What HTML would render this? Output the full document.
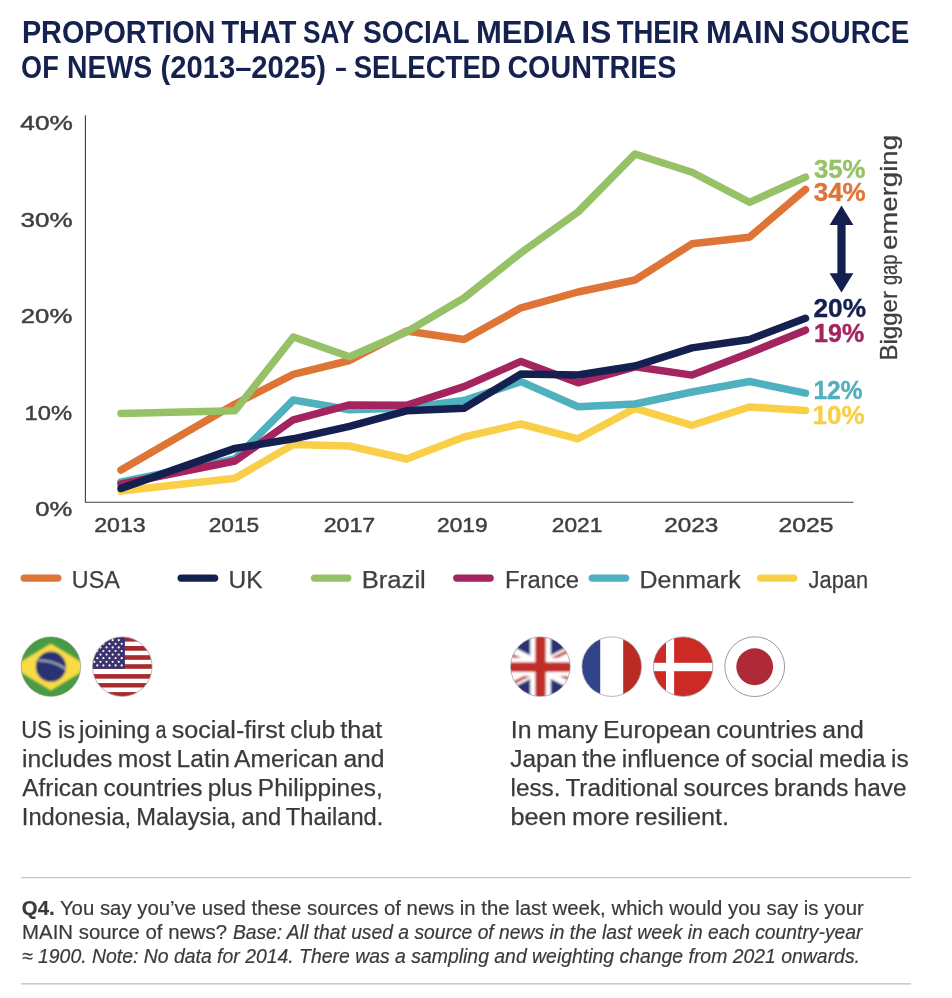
<!DOCTYPE html>
<html><head><meta charset="utf-8"><title>Social media as main source of news</title>
<style>html,body{margin:0;padding:0;background:#fff}body{width:952px;height:998px;overflow:hidden}svg{display:block;will-change:transform}text{font-family:"Liberation Sans", sans-serif}</style>
</head><body>
<svg width="952" height="998" viewBox="0 0 952 998">
<rect width="952" height="998" fill="#fff"/>
<text x="21.9" y="43.4" font-size="30.7" fill="#15224f" font-weight="bold" font-style="normal" textLength="193.53" lengthAdjust="spacingAndGlyphs">PROPORTION</text>
<text x="221.4" y="43.4" font-size="30.7" fill="#15224f" font-weight="bold" font-style="normal" textLength="75.01" lengthAdjust="spacingAndGlyphs">THAT</text>
<text x="303.1" y="43.4" font-size="30.7" fill="#15224f" font-weight="bold" font-style="normal" textLength="51.57" lengthAdjust="spacingAndGlyphs">SAY</text>
<text x="362.9" y="43.4" font-size="30.7" fill="#15224f" font-weight="bold" font-style="normal" textLength="106.52" lengthAdjust="spacingAndGlyphs">SOCIAL</text>
<text x="475.9" y="43.4" font-size="30.7" fill="#15224f" font-weight="bold" font-style="normal" textLength="100.07" lengthAdjust="spacingAndGlyphs">MEDIA</text>
<text x="581.2" y="43.4" font-size="30.7" fill="#15224f" font-weight="bold" font-style="normal" textLength="30.28" lengthAdjust="spacingAndGlyphs">IS</text>
<text x="616.7" y="43.4" font-size="30.7" fill="#15224f" font-weight="bold" font-style="normal" textLength="82.51" lengthAdjust="spacingAndGlyphs">THEIR</text>
<text x="705.9" y="43.4" font-size="30.7" fill="#15224f" font-weight="bold" font-style="normal" textLength="79.15" lengthAdjust="spacingAndGlyphs">MAIN</text>
<text x="790.4" y="43.4" font-size="30.7" fill="#15224f" font-weight="bold" font-style="normal" textLength="119.02" lengthAdjust="spacingAndGlyphs">SOURCE</text>
<text x="21.1" y="78" font-size="30.7" fill="#15224f" font-weight="bold" font-style="normal" textLength="37.6" lengthAdjust="spacingAndGlyphs">OF</text>
<text x="67.1" y="78" font-size="30.7" fill="#15224f" font-weight="bold" font-style="normal" textLength="85.06" lengthAdjust="spacingAndGlyphs">NEWS</text>
<text x="160.5" y="78" font-size="30.7" fill="#15224f" font-weight="bold" font-style="normal" textLength="165.52" lengthAdjust="spacingAndGlyphs">(2013–2025)</text>
<text x="335.4" y="78" font-size="30.7" fill="#15224f" font-weight="bold" font-style="normal" textLength="11.0" lengthAdjust="spacingAndGlyphs">–</text>
<text x="353.7" y="78" font-size="30.7" fill="#15224f" font-weight="bold" font-style="normal" textLength="147.03" lengthAdjust="spacingAndGlyphs">SELECTED</text>
<text x="507.4" y="78" font-size="30.7" fill="#15224f" font-weight="bold" font-style="normal" textLength="169.02" lengthAdjust="spacingAndGlyphs">COUNTRIES</text>
<path d="M85.4 115.2 V502.25 H853.5" fill="none" stroke="#444" stroke-width="1.15"/>
<text x="20.3" y="130.4" font-size="20.5" fill="#3f3f3f" font-weight="normal" font-style="normal" textLength="52.52" lengthAdjust="spacingAndGlyphs" stroke="#3f3f3f" stroke-width="0.45">40%</text>
<text x="20.6" y="226.6" font-size="20.5" fill="#3f3f3f" font-weight="normal" font-style="normal" textLength="52.05" lengthAdjust="spacingAndGlyphs" stroke="#3f3f3f" stroke-width="0.45">30%</text>
<text x="20.8" y="323.1" font-size="20.5" fill="#3f3f3f" font-weight="normal" font-style="normal" textLength="51.53" lengthAdjust="spacingAndGlyphs" stroke="#3f3f3f" stroke-width="0.45">20%</text>
<text x="24.5" y="419.9" font-size="20.5" fill="#3f3f3f" font-weight="normal" font-style="normal" textLength="47.54" lengthAdjust="spacingAndGlyphs" stroke="#3f3f3f" stroke-width="0.45">10%</text>
<text x="35.2" y="516.3" font-size="20.5" fill="#3f3f3f" font-weight="normal" font-style="normal" textLength="37.02" lengthAdjust="spacingAndGlyphs" stroke="#3f3f3f" stroke-width="0.45">0%</text>
<text x="94.2" y="531.5" font-size="20.5" fill="#3f3f3f" font-weight="normal" font-style="normal" textLength="51.56" lengthAdjust="spacingAndGlyphs" stroke="#3f3f3f" stroke-width="0.45">2013</text>
<text x="208.7" y="531.5" font-size="20.5" fill="#3f3f3f" font-weight="normal" font-style="normal" textLength="50.54" lengthAdjust="spacingAndGlyphs" stroke="#3f3f3f" stroke-width="0.45">2015</text>
<text x="323.7" y="531.5" font-size="20.5" fill="#3f3f3f" font-weight="normal" font-style="normal" textLength="51.57" lengthAdjust="spacingAndGlyphs" stroke="#3f3f3f" stroke-width="0.45">2017</text>
<text x="437.0" y="531.5" font-size="20.5" fill="#3f3f3f" font-weight="normal" font-style="normal" textLength="50.54" lengthAdjust="spacingAndGlyphs" stroke="#3f3f3f" stroke-width="0.45">2019</text>
<text x="551.8" y="531.5" font-size="20.5" fill="#3f3f3f" font-weight="normal" font-style="normal" textLength="50.57" lengthAdjust="spacingAndGlyphs" stroke="#3f3f3f" stroke-width="0.45">2021</text>
<text x="664.2" y="531.5" font-size="20.5" fill="#3f3f3f" font-weight="normal" font-style="normal" textLength="54.05" lengthAdjust="spacingAndGlyphs" stroke="#3f3f3f" stroke-width="0.45">2023</text>
<text x="778.4" y="531.5" font-size="20.5" fill="#3f3f3f" font-weight="normal" font-style="normal" textLength="55.05" lengthAdjust="spacingAndGlyphs" stroke="#3f3f3f" stroke-width="0.45">2025</text>
<polyline points="121,491 235,478.3 293.3,444.5 349.5,446 406.5,459 464,437 521,424 578,438.8 635,408.4 692,425.3 749.5,407 805.5,410.4" fill="none" stroke="#f8cf46" stroke-width="7.5" stroke-linecap="round" stroke-linejoin="round"/>
<polyline points="121,482 235,459 293.3,400 349.5,409.7 406.5,408 464,400.5 521,381.6 578,406.7 635,404 692,392 749.5,381.5 805.5,393.2" fill="none" stroke="#4fb0be" stroke-width="7.5" stroke-linecap="round" stroke-linejoin="round"/>
<polyline points="121,484 235,461 293.3,419.8 349.5,404.9 406.5,405.3 464,386.6 521,361.4 578,382.8 635,366.8 692,375.1 749.5,353 805.5,330.2" fill="none" stroke="#a3245f" stroke-width="7.5" stroke-linecap="round" stroke-linejoin="round"/>
<polyline points="121,470 235,404 293.3,374.4 349.5,360.5 406.5,331 464,339.5 521,307.8 578,292 635,280 692,243.8 749.5,237.2 805.5,189.4" fill="none" stroke="#de7436" stroke-width="7.5" stroke-linecap="round" stroke-linejoin="round"/>
<polyline points="121,413.5 235,410.8 293.3,337 349.5,356.7 406.5,332 464,298 521,252.7 578,212 635,154 692,172.3 749.5,202.3 805.5,177.2" fill="none" stroke="#97c166" stroke-width="7.5" stroke-linecap="round" stroke-linejoin="round"/>
<polyline points="121,488.4 235,448.4 293.3,438.8 349.5,426.3 406.5,410.8 464,408.3 521,374 578,375 635,366 692,347.9 749.5,339.5 805.5,318.3" fill="none" stroke="#14204f" stroke-width="7.5" stroke-linecap="round" stroke-linejoin="round"/>
<text x="814.0" y="178.1" font-size="26" fill="#97c166" font-weight="bold" font-style="normal" textLength="51.51" lengthAdjust="spacingAndGlyphs" stroke="#97c166" stroke-width="0.4">35%</text>
<text x="813.7" y="200.8" font-size="26" fill="#de7436" font-weight="bold" font-style="normal" textLength="52.0" lengthAdjust="spacingAndGlyphs" stroke="#de7436" stroke-width="0.4">34%</text>
<text x="813.5" y="316.6" font-size="26" fill="#14204f" font-weight="bold" font-style="normal" textLength="52.51" lengthAdjust="spacingAndGlyphs" stroke="#14204f" stroke-width="0.4">20%</text>
<text x="814.1" y="341.6" font-size="26" fill="#a3245f" font-weight="bold" font-style="normal" textLength="50.06" lengthAdjust="spacingAndGlyphs" stroke="#a3245f" stroke-width="0.4">19%</text>
<text x="813.4" y="398.6" font-size="26" fill="#4fb0be" font-weight="bold" font-style="normal" textLength="49.06" lengthAdjust="spacingAndGlyphs" stroke="#4fb0be" stroke-width="0.4">12%</text>
<text x="812.5" y="423.6" font-size="26" fill="#f8cf46" font-weight="bold" font-style="normal" textLength="52.05" lengthAdjust="spacingAndGlyphs" stroke="#f8cf46" stroke-width="0.4">10%</text>
<path d="M841.5 205.6 L853.4 224.9 H845.6 V273.2 H853.4 L841.5 292.6 L829.6 273.2 H837.4 V224.9 H829.6 Z" fill="#14204f"/>
<g transform="translate(897.3 359.6) rotate(-90)" font-size="24" fill="#3f3f3f" stroke="#3f3f3f" stroke-width="0.3">
<text x="-1.0" y="0" textLength="69.53" lengthAdjust="spacingAndGlyphs">Bigger</text>
<text x="74.5" y="0" textLength="30.5" lengthAdjust="spacingAndGlyphs">gap</text>
<text x="109.6" y="0" textLength="115.06" lengthAdjust="spacingAndGlyphs">emerging</text>
</g>
<line x1="24.2" y1="578.1" x2="57.8" y2="578.1" stroke="#de7436" stroke-width="7.4" stroke-linecap="round"/>
<text x="71.8" y="587.5" font-size="24.7" fill="#3f3f3f" font-weight="normal" font-style="normal" textLength="48.02" lengthAdjust="spacingAndGlyphs" stroke="#3f3f3f" stroke-width="0.25">USA</text>
<line x1="181.2" y1="578.1" x2="214.60000000000002" y2="578.1" stroke="#14204f" stroke-width="7.4" stroke-linecap="round"/>
<text x="228.5" y="587.5" font-size="24.7" fill="#3f3f3f" font-weight="normal" font-style="normal" textLength="34.03" lengthAdjust="spacingAndGlyphs" stroke="#3f3f3f" stroke-width="0.25">UK</text>
<line x1="314.5" y1="578.1" x2="347.8" y2="578.1" stroke="#97c166" stroke-width="7.4" stroke-linecap="round"/>
<text x="361.7" y="587.5" font-size="24.7" fill="#3f3f3f" font-weight="normal" font-style="normal" textLength="64.11" lengthAdjust="spacingAndGlyphs" stroke="#3f3f3f" stroke-width="0.25">Brazil</text>
<line x1="456.8" y1="578.1" x2="490.1" y2="578.1" stroke="#a3245f" stroke-width="7.4" stroke-linecap="round"/>
<text x="505.0" y="587.5" font-size="24.7" fill="#3f3f3f" font-weight="normal" font-style="normal" textLength="74.03" lengthAdjust="spacingAndGlyphs" stroke="#3f3f3f" stroke-width="0.25">France</text>
<line x1="592.3000000000001" y1="578.1" x2="625.5999999999999" y2="578.1" stroke="#4fb0be" stroke-width="7.4" stroke-linecap="round"/>
<text x="639.6" y="587.5" font-size="24.7" fill="#3f3f3f" font-weight="normal" font-style="normal" textLength="101.01" lengthAdjust="spacingAndGlyphs" stroke="#3f3f3f" stroke-width="0.25">Denmark</text>
<line x1="760.7" y1="578.1" x2="793.8" y2="578.1" stroke="#f8cf46" stroke-width="7.4" stroke-linecap="round"/>
<text x="808.6" y="587.5" font-size="24.7" fill="#3f3f3f" font-weight="normal" font-style="normal" textLength="59.52" lengthAdjust="spacingAndGlyphs" stroke="#3f3f3f" stroke-width="0.25">Japan</text>
<defs>
<clipPath id="c0"><circle cx="50.9" cy="666.65" r="29.7"/></clipPath>
<clipPath id="c1"><circle cx="122.3" cy="666.65" r="29.7"/></clipPath>
<clipPath id="c2"><circle cx="540.4" cy="666.65" r="29.7"/></clipPath>
<clipPath id="c3"><circle cx="611.7" cy="666.65" r="29.7"/></clipPath>
<clipPath id="c4"><circle cx="683.1" cy="666.65" r="29.7"/></clipPath>
<clipPath id="c5"><circle cx="754.7" cy="666.65" r="29.7"/></clipPath>
<filter id="b1" x="-10%" y="-10%" width="120%" height="120%"><feGaussianBlur stdDeviation="0.8"/></filter><filter id="b4" x="-10%" y="-10%" width="120%" height="120%"><feGaussianBlur stdDeviation="0.5"/></filter><filter id="b3" x="-10%" y="-10%" width="120%" height="120%"><feGaussianBlur stdDeviation="1.1"/></filter>
<filter id="b2" x="-10%" y="-10%" width="120%" height="120%"><feGaussianBlur stdDeviation="0.3"/></filter>
</defs>
<g clip-path="url(#c0)"><g filter="url(#b1)"><rect x="14.899999999999999" y="630.65" width="72" height="72" fill="#469b45"/>
<path d="M12.299999999999997 667 L50.9 643.7 L89.5 667 L50.9 690.3 Z" fill="#f9dc45"/>
<circle cx="50.9" cy="666.7" r="15.1" fill="#2a3371"/>
<path d="M38.3 660.4 Q54 660.5 65.5 668.8" fill="none" stroke="#b4c3c8" stroke-opacity="0.8" stroke-width="2.3"/></g></g>
<circle cx="50.9" cy="666.65" r="29.8" fill="none" stroke="#7d8f7d" stroke-width="0.6"/>
<g clip-path="url(#c1)"><g filter="url(#b2)"><rect x="86.3" y="630.65" width="72" height="72" fill="#fff"/>
<rect x="86.3" y="630" width="72" height="11.60" fill="#a82a2a"/>
<rect x="86.3" y="646" width="72" height="4.75" fill="#a82a2a"/>
<rect x="86.3" y="655.2" width="72" height="4.60" fill="#a82a2a"/>
<rect x="86.3" y="664.2" width="72" height="4.60" fill="#a82a2a"/>
<rect x="86.3" y="674.1" width="72" height="4.60" fill="#a82a2a"/>
<rect x="86.3" y="683.1" width="72" height="4.40" fill="#a82a2a"/>
<rect x="86.3" y="692.1" width="72" height="7.90" fill="#a82a2a"/>
<rect x="86.3" y="630" width="38.6" height="38.8" fill="#3a336e"/>
<circle cx="94.35" cy="640.20" r="1.1" fill="#fff"/>
<circle cx="100.45" cy="640.20" r="1.1" fill="#fff"/>
<circle cx="106.55" cy="640.20" r="1.1" fill="#fff"/>
<circle cx="112.65" cy="640.20" r="1.1" fill="#fff"/>
<circle cx="118.75" cy="640.20" r="1.1" fill="#fff"/>
<circle cx="97.30" cy="643.80" r="1.1" fill="#fff"/>
<circle cx="103.40" cy="643.80" r="1.1" fill="#fff"/>
<circle cx="109.50" cy="643.80" r="1.1" fill="#fff"/>
<circle cx="115.60" cy="643.80" r="1.1" fill="#fff"/>
<circle cx="121.70" cy="643.80" r="1.1" fill="#fff"/>
<circle cx="94.35" cy="647.40" r="1.1" fill="#fff"/>
<circle cx="100.45" cy="647.40" r="1.1" fill="#fff"/>
<circle cx="106.55" cy="647.40" r="1.1" fill="#fff"/>
<circle cx="112.65" cy="647.40" r="1.1" fill="#fff"/>
<circle cx="118.75" cy="647.40" r="1.1" fill="#fff"/>
<circle cx="97.30" cy="651.00" r="1.1" fill="#fff"/>
<circle cx="103.40" cy="651.00" r="1.1" fill="#fff"/>
<circle cx="109.50" cy="651.00" r="1.1" fill="#fff"/>
<circle cx="115.60" cy="651.00" r="1.1" fill="#fff"/>
<circle cx="121.70" cy="651.00" r="1.1" fill="#fff"/>
<circle cx="94.35" cy="654.60" r="1.1" fill="#fff"/>
<circle cx="100.45" cy="654.60" r="1.1" fill="#fff"/>
<circle cx="106.55" cy="654.60" r="1.1" fill="#fff"/>
<circle cx="112.65" cy="654.60" r="1.1" fill="#fff"/>
<circle cx="118.75" cy="654.60" r="1.1" fill="#fff"/>
<circle cx="97.30" cy="658.20" r="1.1" fill="#fff"/>
<circle cx="103.40" cy="658.20" r="1.1" fill="#fff"/>
<circle cx="109.50" cy="658.20" r="1.1" fill="#fff"/>
<circle cx="115.60" cy="658.20" r="1.1" fill="#fff"/>
<circle cx="121.70" cy="658.20" r="1.1" fill="#fff"/>
<circle cx="94.35" cy="661.80" r="1.1" fill="#fff"/>
<circle cx="100.45" cy="661.80" r="1.1" fill="#fff"/>
<circle cx="106.55" cy="661.80" r="1.1" fill="#fff"/>
<circle cx="112.65" cy="661.80" r="1.1" fill="#fff"/>
<circle cx="118.75" cy="661.80" r="1.1" fill="#fff"/>
<circle cx="97.30" cy="665.40" r="1.1" fill="#fff"/>
<circle cx="103.40" cy="665.40" r="1.1" fill="#fff"/>
<circle cx="109.50" cy="665.40" r="1.1" fill="#fff"/>
<circle cx="115.60" cy="665.40" r="1.1" fill="#fff"/>
<circle cx="121.70" cy="665.40" r="1.1" fill="#fff"/>
</g></g>
<circle cx="122.3" cy="666.65" r="29.8" fill="none" stroke="#a09494" stroke-width="0.7"/>
<g clip-path="url(#c2)"><g filter="url(#b3)"><rect x="504.4" y="630.65" width="72" height="72" fill="#2b3276"/>
<path d="M470.5 632.1 L610.5 702.1 M470.5 702.1 L610.5 632.1" stroke="#fff" stroke-width="12"/>
<path d="M539.61 668.89 L469.61 633.89" stroke="#c12d2c" stroke-width="3"/>
<path d="M539.61 665.31 L609.61 630.31" stroke="#c12d2c" stroke-width="3"/>
<path d="M541.39 665.31 L611.39 700.31" stroke="#c12d2c" stroke-width="3"/>
<path d="M541.39 668.89 L471.39 703.89" stroke="#c12d2c" stroke-width="3"/>
<path d="M540.5 630.65 V702.65" stroke="#fff" stroke-width="20.6"/><path d="M504.4 667.1 H576.4" stroke="#fff" stroke-width="18"/>
<path d="M540.5 630.65 V702.65" stroke="#c12d2c" stroke-width="10.4"/><path d="M504.4 667.1 H576.4" stroke="#c12d2c" stroke-width="9.8"/></g></g>
<circle cx="540.4" cy="666.65" r="29.8" fill="none" stroke="#9a8f95" stroke-width="0.7"/>
<g clip-path="url(#c3)"><rect x="580.7" y="635.65" width="62" height="62" fill="#fff"/>
<rect x="580.7" y="635.65" width="19.5" height="62" fill="#30448c"/>
<rect x="623.2" y="635.65" width="19.5" height="62" fill="#b92b25"/></g>
<circle cx="611.7" cy="666.65" r="29.8" fill="none" stroke="#999" stroke-width="0.7"/>
<g clip-path="url(#c4)"><rect x="652.1" y="635.65" width="62" height="62" fill="#cc2b25"/>
<rect x="666" y="635.65" width="8.1" height="62" fill="#fff"/><rect x="652.1" y="662.8" width="62" height="8.4" fill="#fff"/></g>
<circle cx="683.1" cy="666.65" r="29.8" fill="none" stroke="#999" stroke-width="0.7"/>
<circle cx="754.7" cy="666.65" r="29.9" fill="#fff" stroke="#808080" stroke-width="0.8"/>
<circle cx="754.7" cy="666.75" r="18.4" fill="#ae2b38" filter="url(#b4)"/>
<text x="21.2" y="738.3" font-size="24.7" fill="#3a3a3a" font-weight="normal" font-style="normal" textLength="30.57" lengthAdjust="spacingAndGlyphs" stroke="#3a3a3a" stroke-width="0.25">US</text>
<text x="57.9" y="738.3" font-size="24.7" fill="#3a3a3a" font-weight="normal" font-style="normal" textLength="17.07" lengthAdjust="spacingAndGlyphs" stroke="#3a3a3a" stroke-width="0.25">is</text>
<text x="79.1" y="738.3" font-size="24.7" fill="#3a3a3a" font-weight="normal" font-style="normal" textLength="71.01" lengthAdjust="spacingAndGlyphs" stroke="#3a3a3a" stroke-width="0.25">joining</text>
<text x="155.5" y="738.3" font-size="24.7" fill="#3a3a3a" font-weight="normal" font-style="normal" textLength="11.03" lengthAdjust="spacingAndGlyphs" stroke="#3a3a3a" stroke-width="0.25">a</text>
<text x="171.7" y="738.3" font-size="24.7" fill="#3a3a3a" font-weight="normal" font-style="normal" textLength="113.01" lengthAdjust="spacingAndGlyphs" stroke="#3a3a3a" stroke-width="0.25">social-first</text>
<text x="290.2" y="738.3" font-size="24.7" fill="#3a3a3a" font-weight="normal" font-style="normal" textLength="45.06" lengthAdjust="spacingAndGlyphs" stroke="#3a3a3a" stroke-width="0.25">club</text>
<text x="340.3" y="738.3" font-size="24.7" fill="#3a3a3a" font-weight="normal" font-style="normal" textLength="42.01" lengthAdjust="spacingAndGlyphs" stroke="#3a3a3a" stroke-width="0.25">that</text>
<text x="22.0" y="767.2" font-size="24.7" fill="#3a3a3a" font-weight="normal" font-style="normal" textLength="362.51" lengthAdjust="spacingAndGlyphs" word-spacing="-1.5" stroke="#3a3a3a" stroke-width="0.25">includes most Latin American and</text>
<text x="22.2" y="796.2" font-size="24.7" fill="#3a3a3a" font-weight="normal" font-style="normal" textLength="360.51" lengthAdjust="spacingAndGlyphs" word-spacing="-1.5" stroke="#3a3a3a" stroke-width="0.25">African countries plus Philippines,</text>
<text x="21.8" y="825" font-size="24.7" fill="#3a3a3a" font-weight="normal" font-style="normal" textLength="361.54" lengthAdjust="spacingAndGlyphs" word-spacing="-1.5" stroke="#3a3a3a" stroke-width="0.25">Indonesia, Malaysia, and Thailand.</text>
<text x="510.8" y="738.3" font-size="24.7" fill="#3a3a3a" font-weight="normal" font-style="normal" textLength="353.03" lengthAdjust="spacingAndGlyphs" word-spacing="-1.5" stroke="#3a3a3a" stroke-width="0.25">In many European countries and</text>
<text x="510.2" y="767.2" font-size="24.7" fill="#3a3a3a" font-weight="normal" font-style="normal" textLength="398.5" lengthAdjust="spacingAndGlyphs" word-spacing="-1.5" stroke="#3a3a3a" stroke-width="0.25">Japan the influence of social media is</text>
<text x="510.5" y="796.2" font-size="24.7" fill="#3a3a3a" font-weight="normal" font-style="normal" textLength="396.01" lengthAdjust="spacingAndGlyphs" word-spacing="-1.5" stroke="#3a3a3a" stroke-width="0.25">less. Traditional sources brands have</text>
<text x="510.5" y="825" font-size="24.7" fill="#3a3a3a" font-weight="normal" font-style="normal" textLength="218.54" lengthAdjust="spacingAndGlyphs" word-spacing="-1.5" stroke="#3a3a3a" stroke-width="0.25">been more resilient.</text>
<rect x="21" y="877" width="890" height="1.2" fill="#c4c4c4"/>
<rect x="21" y="983.2" width="890" height="1.3" fill="#c0c0c0"/>
<text x="21.8" y="915" font-size="20.5" fill="#3a3a3a" font-weight="normal" font-style="normal" textLength="842.0" lengthAdjust="spacingAndGlyphs" stroke="#3a3a3a" stroke-width="0.2"><tspan font-weight="bold">Q4.</tspan> You say you’ve used these sources of news in the last week, which would you say is your</text>
<text x="22.1" y="939.1" font-size="20.5" fill="#3a3a3a" font-weight="normal" font-style="normal" textLength="205.01" lengthAdjust="spacingAndGlyphs" stroke="#3a3a3a" stroke-width="0.2">MAIN source of news?</text>
<text x="232.9" y="939.1" font-size="20.5" fill="#3a3a3a" font-weight="normal" font-style="italic" textLength="629.5" lengthAdjust="spacingAndGlyphs" stroke="#3a3a3a" stroke-width="0.2">Base: All that used a source of news in the last week in each country-year</text>
<text x="22.0" y="963.2" font-size="20.5" fill="#3a3a3a" font-weight="normal" font-style="italic" textLength="838.01" lengthAdjust="spacingAndGlyphs" stroke="#3a3a3a" stroke-width="0.2">≈ 1900. Note: No data for 2014. There was a sampling and weighting change from 2021 onwards.</text>
</svg>
</body></html>
